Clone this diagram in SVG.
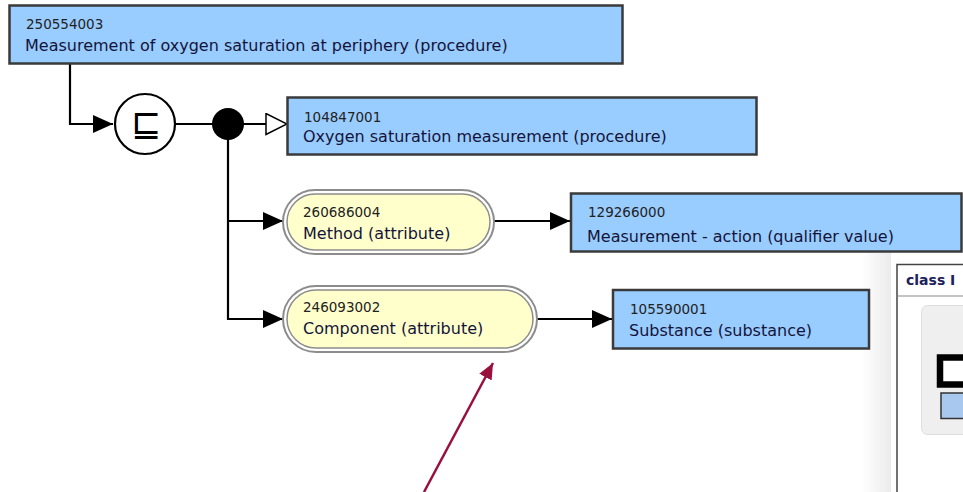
<svg xmlns="http://www.w3.org/2000/svg" width="963" height="492" viewBox="0 0 963 492">
<style>
.box{fill:#99ccff;stroke:#3a3a3a;stroke-width:2.5}
.pillo{fill:#ffffff;stroke:#8c8c8c;stroke-width:2}
.pilli{fill:#ffffcc;stroke:#8c8c8c;stroke-width:1.5}
.num{font-family:"DejaVu Sans",sans-serif;font-size:13.5px;fill:#222}
.lbl{font-family:"DejaVu Sans",sans-serif;font-size:16px;fill:#14143a}
.ln{fill:none;stroke:#000;stroke-width:2.2}
</style>
<defs>
<marker id="fa" viewBox="0 0 20 18" refX="20" refY="9" markerWidth="20" markerHeight="18" markerUnits="userSpaceOnUse" orient="auto">
<path d="M0,0 L20,9 L0,18 Z" fill="#000"/>
</marker>
<marker id="oa" viewBox="-1 -1 23 23" refX="21" refY="10.5" markerWidth="23" markerHeight="23" markerUnits="userSpaceOnUse" orient="auto">
<path d="M0,0 L21,10.5 L0,21 Z" fill="#fff" stroke="#000" stroke-width="1.5"/>
</marker>
<marker id="ra" viewBox="0 0 16 14" refX="16" refY="7" markerWidth="16" markerHeight="14" markerUnits="userSpaceOnUse" orient="auto">
<path d="M0,0 L16,7 L0,14 Z" fill="#99103d"/>
</marker>
<linearGradient id="sh" x1="0" y1="0" x2="1" y2="0">
<stop offset="0" stop-color="#ffffff"/>
<stop offset="1" stop-color="#ebebeb"/>
</linearGradient>
</defs>
<rect width="963" height="492" fill="#fff"/>

<g id="background-window">
<rect x="862" y="253" width="29" height="239" fill="url(#sh)"/>
<rect x="897" y="264.5" width="80" height="240" fill="#fff" stroke="#444" stroke-width="1.5"/>
<line x1="897" y1="296" x2="963" y2="296" stroke="#888" stroke-width="1"/>
<text x="906" y="285" font-family="'DejaVu Sans',sans-serif" font-size="14" font-weight="bold" fill="#20205a">class I</text>
<rect x="921.5" y="305.5" width="60" height="129" rx="6" fill="#efefef" stroke="#dedede"/>
<rect x="940" y="357.5" width="40" height="27" fill="#fff" stroke="#000" stroke-width="6.5"/>
<rect x="941" y="393" width="40" height="25.5" fill="#a8c8f0" stroke="#333" stroke-width="1.5"/>
</g>

<g id="connectors">
<polyline class="ln" points="70,64 70,124 113,124" marker-end="url(#fa)"/>
<line class="ln" x1="175" y1="124" x2="228" y2="124"/>
<line class="ln" x1="228" y1="124" x2="287" y2="124" marker-end="url(#oa)"/>
<polyline class="ln" points="228,124 228,319 283,319" marker-end="url(#fa)"/>
<line class="ln" x1="228" y1="221" x2="283" y2="221" marker-end="url(#fa)"/>
<line class="ln" x1="494" y1="221" x2="570" y2="221" marker-end="url(#fa)"/>
<line class="ln" x1="537" y1="319" x2="612" y2="319" marker-end="url(#fa)"/>
</g>

<g id="n250554003">
<rect class="box" x="9.5" y="5.5" width="613" height="58"/>
<text class="num" x="26" y="29">250554003</text>
<text class="lbl" x="25" y="51">Measurement of oxygen saturation at periphery (procedure)</text>
</g>

<g id="subsumption">
<circle cx="145" cy="124" r="30" fill="#fff" stroke="#000" stroke-width="2.2"/>
<text x="146" y="136" text-anchor="middle" font-family="'DejaVu Sans',sans-serif" font-size="36" fill="#000">⊑</text>
</g>

<g id="conjunction">
<circle cx="228" cy="124" r="16" fill="#000"/>
</g>

<g id="n104847001">
<rect class="box" x="287.5" y="97.5" width="469" height="57"/>
<text class="num" x="304" y="122">104847001</text>
<text class="lbl" x="303" y="142">Oxygen saturation measurement (procedure)</text>
</g>

<g id="n260686004">
<rect class="pillo" x="283" y="190" width="211" height="64" rx="32"/>
<rect class="pilli" x="287" y="194" width="203" height="56" rx="28"/>
<text class="num" x="303" y="217">260686004</text>
<text class="lbl" x="303" y="239">Method (attribute)</text>
</g>

<g id="n129266000">
<rect class="box" x="571" y="193.5" width="390.5" height="58"/>
<text class="num" x="588" y="217">129266000</text>
<text class="lbl" x="587" y="242">Measurement - action (qualifier value)</text>
</g>

<g id="n246093002">
<rect class="pillo" x="283" y="286" width="254" height="66" rx="33"/>
<rect class="pilli" x="287" y="290" width="246" height="58" rx="29"/>
<text class="num" x="303" y="312">246093002</text>
<text class="lbl" x="303" y="334">Component (attribute)</text>
</g>

<g id="n105590001">
<rect class="box" x="613" y="290" width="256" height="58.5"/>
<text class="num" x="630" y="314">105590001</text>
<text class="lbl" x="629" y="336">Substance (substance)</text>
</g>

<g id="pointer">
<line x1="424" y1="492" x2="493" y2="363" stroke="#99103d" stroke-width="2.5" marker-end="url(#ra)"/>
</g>
</svg>
